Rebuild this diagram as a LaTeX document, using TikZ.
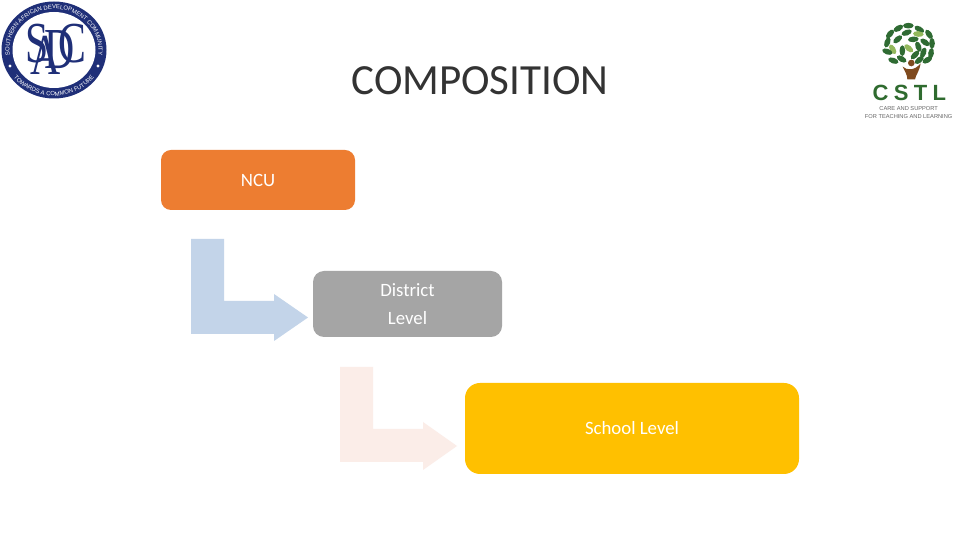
\documentclass[tikz,border=0pt]{standalone}
\usepackage{fontspec}
\setmainfont{Carlito}
\newfontfamily\logofont{Liberation Sans}
\newfontfamily\serifletters{Liberation Serif}
\newfontfamily\spacedfont[LetterSpace=24]{Liberation Sans}
\usetikzlibrary{decorations.text}
\definecolor{sadcblue}{HTML}{1F2F78}
\definecolor{ncuorange}{HTML}{ED7D31}
\definecolor{distgray}{HTML}{A5A5A5}
\definecolor{schoolgold}{HTML}{FFC000}
\definecolor{arrowblue}{HTML}{C3D4E9}
\definecolor{arrowpink}{HTML}{FBEDE8}
\definecolor{leafdark}{HTML}{2F6B33}
\definecolor{leaflight}{HTML}{93B85C}
\definecolor{trunkbrown}{HTML}{7F4A1E}
\definecolor{cstlgreen}{HTML}{2F6B2F}
\tikzset{
  levelbox/.style={rounded corners=#1, inner sep=0pt, text=white, align=center,
     font=\fontsize{18.8}{28}\selectfont},
  sadcletter/.style={text=sadcblue, inner sep=0pt, xscale=0.72, font=\serifletters\fontsize{58}{58}\selectfont}
}
\newcommand{\leafat}[4]{\fill[#4, rotate around={#3:(#1,-#2)}] (#1,-#2) ellipse [x radius=16, y radius=8.5];}
\begin{document}
\begin{tikzpicture}[x=1pt,y=1pt]
\useasboundingbox (0,0) rectangle (960,540);
\fill[white] (0,0) rectangle (960,540);
\begin{scope}[shift={(0,540)}]
% title
\node[inner sep=0pt, text=black!80, font=\fontsize{43}{43}\selectfont] (title) at (480,-81) {COMPOSITION};
% boxes
\node[levelbox=10, fill=ncuorange, minimum width=194, minimum height=60] (ncu) at (258,-180) {NCU};
\node[levelbox=11, fill=distgray, minimum width=189, minimum height=66] (district) at (407.5,-304) {District\\Level};
\node[levelbox=15, fill=schoolgold, minimum width=334, minimum height=91] (school) at (632,-428.5) {School Level};
% block arrows
\fill[arrowblue] (191,-239) -- (224,-239) -- (224,-301) -- (274,-301) -- (274,-294) -- (308,-317.5) -- (274,-341) -- (274,-334) -- (191,-334) -- cycle;
\fill[arrowpink] (340,-367) -- (373,-367) -- (373,-429) -- (423,-429) -- (423,-422) -- (457,-446) -- (423,-470) -- (423,-462) -- (340,-462) -- cycle;
% SADC logo
\fill[sadcblue] (54,-50) ellipse [x radius=52.5, y radius=48.5];
\fill[white] (54,-50) ellipse [x radius=41.5, y radius=38];
\path[decorate, decoration={text along path, text align=center,
   text={|\logofont\fontsize{5.9}{7}\selectfont\color{white}|SOUTHERN AFRICAN DEVELOPMENT COMMUNITY}}]
   (54,-50) ++(225:44.5 and 41) arc [start angle=225, end angle=-45, x radius=44.5, y radius=41];
\path[decorate, decoration={text along path, text align=center,
   text={|\logofont\fontsize{6}{7}\selectfont\color{white}|TOWARDS A COMMON FUTURE}}]
   (54,-50) ++(195:50 and 46) arc [start angle=195, end angle=345, x radius=50, y radius=46];
\fill[white] (10,-66) circle (1.6);
\fill[white] (98,-66) circle (1.6);
\node[sadcletter] (s) at (37,-44) {S};
\node[sadcletter] (a) at (46,-55) {A};
\node[sadcletter] (d) at (60,-50) {D};
\node[sadcletter] (c) at (72,-44) {C};
% CSTL logo
\begin{scope}[shift={(850,-10)}, scale=1/3]
\foreach \lx/\ly/\lr/\lc in {
 175/47/0/leafdark, 145/55/30/leafdark, 208/58/-30/leafdark, 120/72/50/leafdark,
 170/68/20/leafdark, 205/72/-5/leaflight, 237/73/-55/leafdark, 112/97/70/leafdark,
 143/88/40/leafdark, 190/88/5/leafdark, 225/97/-35/leafdark, 246/100/-90/leafdark,
 128/118/-60/leaflight, 157/122/90/leafdark, 205/110/-70/leafdark, 176/115/-40/leaflight,
 112/125/-20/leafdark, 130/152/-20/leafdark, 155/147/-30/leafdark, 195/135/45/leafdark,
 220/128/70/leafdark, 243/130/80/leafdark, 232/150/30/leafdark, 208/150/40/leafdark}
 { \leafat{\lx}{\ly}{\lr}{\lc} }
\fill[trunkbrown] (158,-170) .. controls (170,-182) and (195,-182) .. (212,-160)
   .. controls (208,-185) and (197,-195) .. (195,-208) -- (172,-208)
   .. controls (172,-195) and (165,-185) .. (158,-170) -- cycle;
\fill[trunkbrown] (184,-159) circle (10);
\node[inner sep=0pt, text=cstlgreen, font=\spacedfont\bfseries\fontsize{22}{22}\selectfont] (cstl) at (178,-250) {CSTL};
\node[inner sep=0pt, text=black!60, align=center, font=\logofont\fontsize{5.7}{7.6}\selectfont] (tag) at (176,-308) {CARE AND SUPPORT\\FOR TEACHING AND LEARNING};
\end{scope}
\end{scope}
\end{tikzpicture}
\end{document}
